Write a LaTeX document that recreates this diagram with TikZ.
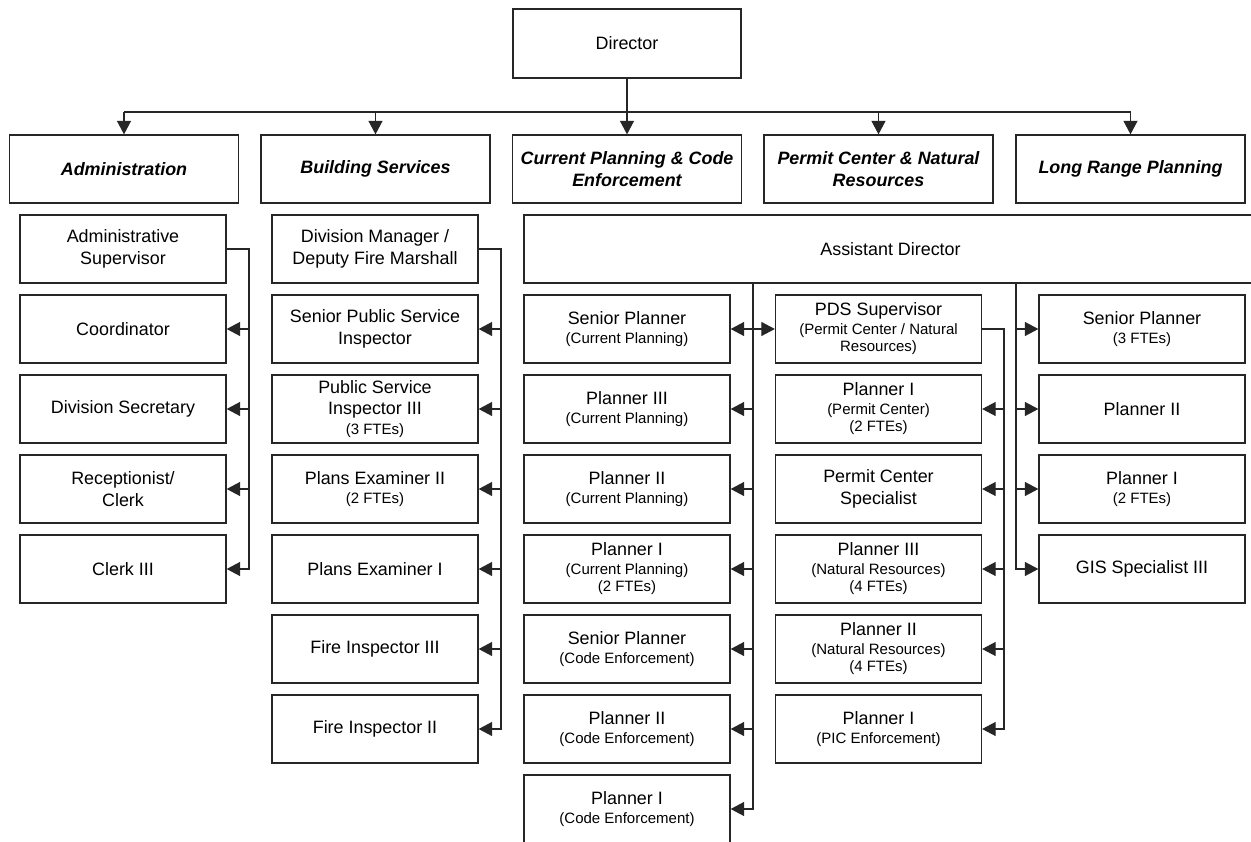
\documentclass[tikz,border=0pt]{standalone}
\usepackage{fontspec}
\setmainfont{Liberation Sans}
\usetikzlibrary{arrows.meta}
\newcommand\smf[1]{{\fontsize{15}{18}\selectfont #1}}
\begin{document}
\begin{tikzpicture}[x=1pt,y=-1pt,
  box/.style={draw=black!85, line width=1.3pt, fill=white, minimum width=206pt, minimum height=68pt, inner sep=0pt, align=center, font=\fontsize{17.9}{21.5}\selectfont},
  head/.style={box, minimum width=229pt, font=\fontsize{17.9}{21.5}\selectfont\bfseries\itshape},
  conn/.style={draw=black!85, line width=1.1pt},
  arr/.style={conn, -{Triangle[length=13.5pt,width=14pt]}},
  darr/.style={conn, {Triangle[length=13.5pt,width=14pt]}-{Triangle[length=13.5pt,width=14pt]}},
]
\useasboundingbox (0,0) rectangle (1251,842);
\clip (0,0) rectangle (1251,842);
\fill[white] (0,0) rectangle (1251,842);

% top
\node[box, minimum width=228pt, minimum height=69pt] (dir) at (627,43.5) {Director};

\node[head] (adm) at (124,169) {Administration};
\node[head] (bld) at (375.5,169) {Building Services};
\node[head] (cpl) at (627,169) {Current Planning \& Code\\Enforcement};
\node[head] (pcn) at (878.5,169) {Permit Center \& Natural\\Resources};
\node[head] (lrp) at (1130.5,169) {Long Range Planning};

\node[box, minimum width=733pt] (ad) at (890.5,249) {Assistant Director};

% administration column
\node[box] (a0) at (123,249) {Administrative\\Supervisor};
\node[box] (a1) at (123,329) {Coordinator};
\node[box] (a2) at (123,409) {Division Secretary};
\node[box] (a3) at (123,489) {Receptionist/\\Clerk};
\node[box] (a4) at (123,569) {Clerk III};

% building services column
\node[box] (b0) at (375,249) {Division Manager /\\Deputy Fire Marshall};
\node[box] (b1) at (375,329) {Senior Public Service\\Inspector};
\node[box] (b2) at (375,409) {Public Service\\Inspector III\\[-2pt]\smf{(3 FTEs)}};
\node[box] (b3) at (375,489) {Plans Examiner II\\[-3pt]\smf{(2 FTEs)}};
\node[box] (b4) at (375,569) {Plans Examiner I};
\node[box] (b5) at (375,649) {Fire Inspector III};
\node[box] (b6) at (375,729) {Fire Inspector II};

% current planning column
\node[box] (c1) at (627,329) {Senior Planner\\[-3pt]\smf{(Current Planning)}};
\node[box] (c2) at (627,409) {Planner III\\[-3pt]\smf{(Current Planning)}};
\node[box] (c3) at (627,489) {Planner II\\[-3pt]\smf{(Current Planning)}};
\node[box] (c4) at (627,569) {Planner I\\[-3pt]\smf{(Current Planning)}\\[-4pt]\smf{(2 FTEs)}};
\node[box] (c5) at (627,649) {Senior Planner\\[-3pt]\smf{(Code Enforcement)}};
\node[box] (c6) at (627,729) {Planner II\\[-3pt]\smf{(Code Enforcement)}};
\node[box] (c7) at (627,809) {Planner I\\[-3pt]\smf{(Code Enforcement)}};

% permit center column
\node[box] (p1) at (878.5,329) {PDS Supervisor\\[-3pt]\smf{(Permit Center / Natural}\\[-4pt]\smf{Resources)}};
\node[box] (p2) at (878.5,409) {Planner I\\[-3pt]\smf{(Permit Center)}\\[-4pt]\smf{(2 FTEs)}};
\node[box] (p3) at (878.5,489) {Permit Center\\Specialist};
\node[box] (p4) at (878.5,569) {Planner III\\[-3pt]\smf{(Natural Resources)}\\[-4pt]\smf{(4 FTEs)}};
\node[box] (p5) at (878.5,649) {Planner II\\[-3pt]\smf{(Natural Resources)}\\[-4pt]\smf{(4 FTEs)}};
\node[box] (p6) at (878.5,729) {Planner I\\[-3pt]\smf{(PIC Enforcement)}};

% long range column
\node[box] (r1) at (1142,329) {Senior Planner\\[-3pt]\smf{(3 FTEs)}};
\node[box] (r2) at (1142,409) {Planner II};
\node[box] (r3) at (1142,489) {Planner I\\[-3pt]\smf{(2 FTEs)}};
\node[box] (r4) at (1142,569) {GIS Specialist III};

% connectors from director
\coordinate (bus) at (627,112);
\draw[conn] (adm.north |- bus) -- (lrp.north |- bus);
\draw[arr] (dir.south) -- (cpl.north);
\foreach \n in {adm,bld,pcn,lrp} \draw[arr] (\n.north |- bus) -- (\n.north);

% administration
\coordinate (ax) at (249,0);
\draw[arr] (a0.east) -- (a0.east -| ax) |- (a4.east);
\foreach \n in {a1,a2,a3} \draw[arr] (\n.east -| ax) -- (\n.east);

% building services
\coordinate (bx) at (501,0);
\draw[arr] (b0.east) -- (b0.east -| bx) |- (b6.east);
\foreach \n in {b1,b2,b3,b4,b5} \draw[arr] (\n.east -| bx) -- (\n.east);

% current planning
\coordinate (cx) at (753,0);
\draw[arr] (ad.south -| cx) |- (c7.east);
\foreach \n in {c2,c3,c4,c5,c6} \draw[arr] (\n.east -| cx) -- (\n.east);
\draw[darr] (c1.east) -- (p1.west);

% permit center
\coordinate (px) at (1004,0);
\draw[arr] (p1.east) -- (p1.east -| px) |- (p6.east);
\foreach \n in {p2,p3,p4,p5} \draw[arr] (\n.east -| px) -- (\n.east);

% long range
\coordinate (rx) at (1016,0);
\draw[arr] (ad.south -| rx) |- (r4.west);
\foreach \n in {r1,r2,r3} \draw[arr] (\n.west -| rx) -- (\n.west);
\end{tikzpicture}
\end{document}
